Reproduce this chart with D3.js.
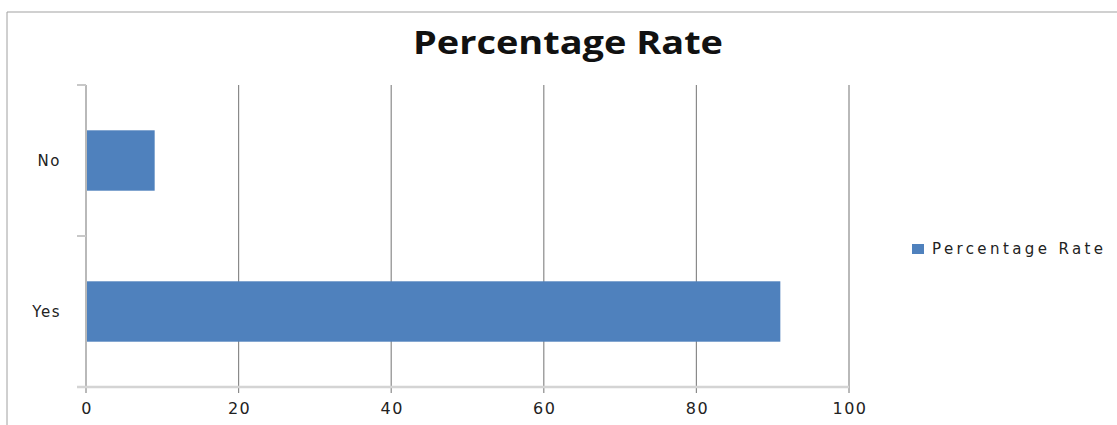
<!DOCTYPE html>
<html>
<head>
<meta charset="utf-8">
<script src="https://cdn.jsdelivr.net/npm/d3@7"></script>
<style>
  body { margin: 0; background: #fff; }
  svg { display: block; }
</style>
</head>
<body>
<svg id="canvas" width="1117" height="425"></svg>
<script>
var categories = ['No', 'Yes'];
var values = [9, 91];
var xTicks = [0, 20, 40, 60, 80, 100];
var seriesName = 'Percentage Rate';

var svg = d3.select('#canvas');

var plotLeft = 86, plotRight = 849, plotTop = 85, plotBottom = 387;

// chart frame
svg.append('line')
    .attr('x1', 7).attr('x2', 1117)
    .attr('y1', 12).attr('y2', 12)
    .style('stroke', '#d0d0d0')
    .style('stroke-width', 2);
svg.append('line')
    .attr('x1', 7).attr('x2', 7)
    .attr('y1', 12).attr('y2', 425)
    .style('stroke', '#a0a0a0')
    .style('stroke-width', 1);

var x = d3.scaleLinear()
    .domain([0, 100])
    .range([plotLeft, plotRight]);

var y = d3.scaleBand()
    .domain(categories)
    .range([plotTop, plotBottom])
    .paddingInner(0.6)
    .paddingOuter(0.3);

// vertical gridlines
svg.selectAll('.grid')
    .data(xTicks)
    .enter()
    .append('line')
    .attr('class', 'grid')
    .attr('x1', function(d) { return x(d); })
    .attr('x2', function(d) { return x(d); })
    .attr('y1', plotTop)
    .attr('y2', plotBottom + 6)
    .style('stroke', '#8a8a8a')
    .style('stroke-width', 1.2);

// category ticks
var catTicks = [plotTop, (plotTop + plotBottom) / 2, plotBottom];
svg.selectAll('.ctick')
    .data(catTicks)
    .enter()
    .append('line')
    .attr('x1', plotLeft - 9)
    .attr('x2', plotLeft)
    .attr('y1', function(d) { return d; })
    .attr('y2', function(d) { return d; })
    .style('stroke', '#c8c8c8')
    .style('stroke-width', 2);

// bottom axis line
svg.append('line')
    .attr('x1', plotLeft - 9).attr('x2', plotRight)
    .attr('y1', plotBottom).attr('y2', plotBottom)
    .style('stroke', '#d4d4d4')
    .style('stroke-width', 2.5);

// bars
svg.selectAll('rect.bar')
    .data(values)
    .enter()
    .append('rect')
    .attr('class', 'bar')
    .attr('x', x(0) + 1)
    .attr('y', function(d, i) { return y(categories[i]); })
    .attr('width', function(d) { return x(d) - x(0) - 1; })
    .attr('height', y.bandwidth())
    .style('fill', '#4f81bd');

// x tick labels
svg.selectAll('.xlabel')
    .data(xTicks)
    .enter()
    .append('text')
    .attr('x', function(d) { return x(d) + 1; })
    .attr('y', 414)
    .attr('text-anchor', 'middle')
    .style('font-family', 'DejaVu Sans')
    .style('font-size', '16px')
    .style('letter-spacing', '1.5px')
    .style('fill', '#222')
    .text(function(d) { return d; });

// category labels
svg.selectAll('.ylabel')
    .data(categories)
    .enter()
    .append('text')
    .attr('x', 61)
    .attr('y', function(d) { return y(d) + y.bandwidth() / 2 + 5; })
    .attr('text-anchor', 'end')
    .style('font-family', 'DejaVu Sans')
    .style('font-size', '15px')
    .style('letter-spacing', '1.5px')
    .style('fill', '#222')
    .text(function(d) { return d; });

// title
svg.append('text')
    .attr('x', 568)
    .attr('y', 54)
    .attr('text-anchor', 'middle')
    .attr('textLength', 310)
    .attr('lengthAdjust', 'spacingAndGlyphs')
    .style('font-family', 'Open Sans')
    .style('font-weight', 'bold')
    .style('font-size', '32px')
    .style('fill', '#111')
    .text('Percentage Rate');

// legend
svg.append('rect')
    .attr('x', 912)
    .attr('y', 244)
    .attr('width', 12)
    .attr('height', 10)
    .style('fill', '#4f81bd');
svg.append('text')
    .attr('x', 932)
    .attr('y', 254)
    .attr('textLength', 171)
    .attr('lengthAdjust', 'spacing')
    .style('font-family', 'DejaVu Sans')
    .style('font-size', '15px')
    .style('fill', '#222')
    .text(seriesName);
</script>
</body>
</html>
